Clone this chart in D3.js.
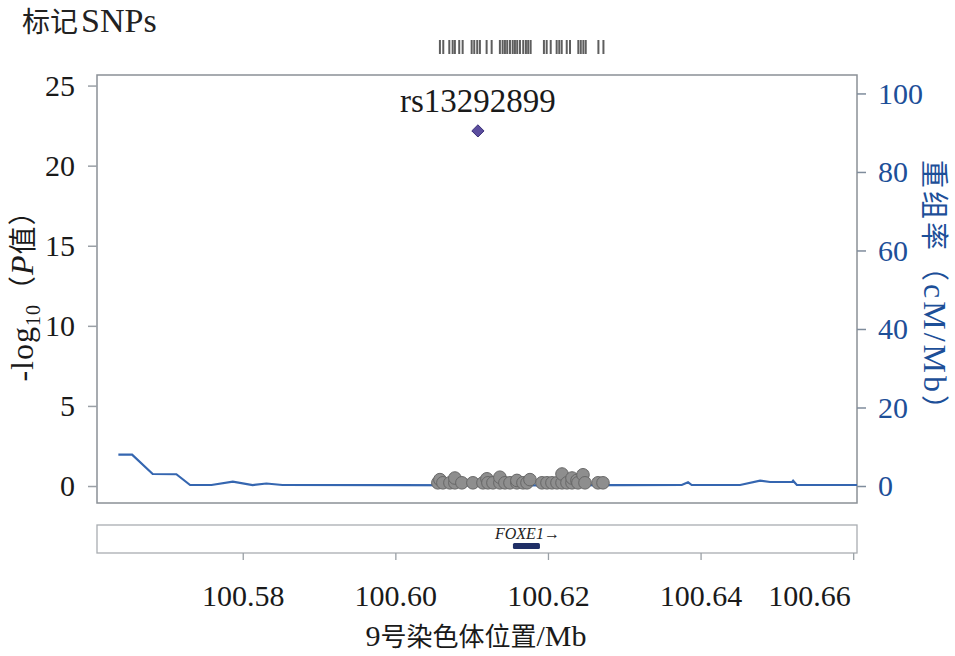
<!DOCTYPE html>
<html><head><meta charset="utf-8">
<script src="https://cdn.jsdelivr.net/npm/d3@7/dist/d3.min.js"></script>
<style>
body{margin:0;background:#fff;}
svg{display:block;}
text{font-family:"Liberation Serif","Noto Sans CJK SC",serif;}
</style></head><body>
<svg id="c" width="955" height="656"></svg>
<script>
// ---- data ----
const xTicks = [100.58, 100.60, 100.62, 100.64, 100.66];
const yTicksLeft = [0, 5, 10, 15, 20, 25];
const yTicksRight = [0, 20, 40, 60, 80, 100];
const snpPos = [100.60557,100.60584,100.60623,100.60715,100.60780,100.60780,100.60872,100.61016,100.61148,100.61200,100.61213,100.61279,100.61370,100.61370,100.61436,100.61502,100.61593,100.61593,100.61672,100.61725,100.61764,100.61921,100.61987,100.62052,100.62118,100.62184,100.62184,100.62249,100.62315,100.62315,100.62380,100.62393,100.62459,100.62485,100.62656,100.62721];
const snpLogP = [0.2,0.4,0.2,0.2,0.2,0.5,0.2,0.2,0.2,0.45,0.2,0.2,0.2,0.55,0.2,0.2,0.2,0.35,0.2,0.2,0.4,0.2,0.2,0.2,0.2,0.2,0.75,0.2,0.2,0.5,0.35,0.2,0.7,0.2,0.2,0.2];
const leadSnp = {name: "rs13292899", pos: 100.61082, logP: 22.17};
const recPos = [100.5637,100.5655,100.5682,100.5713,100.5731,100.5759,100.5787,100.5813,100.5831,100.5852,100.6000,100.6150,100.6300,100.63753,100.63836,100.63884,100.64518,100.6478,100.64911,100.6520,100.65213,100.65262,100.6605];
const recRate = [7.97,7.97,3.06,3.0,0.25,0.25,1.1,0.25,0.64,0.25,0.2,0.15,0.2,0.25,0.94,0.25,0.25,1.35,1.02,1.02,1.35,0.25,0.25];
const markerPos = [100.60584,100.60628,100.60707,100.60751,100.60780,100.60837,100.60882,100.61000,100.61034,100.61073,100.61108,100.61196,100.61262,100.61370,100.61406,100.61436,100.61466,100.61502,100.61538,100.61567,100.61597,100.61633,100.61676,100.61711,100.61741,100.61773,100.61947,100.61983,100.62036,100.62114,100.62148,100.62180,100.62246,100.62289,100.62398,100.62430,100.62464,100.62495,100.62661,100.62727];
const gene = {name: "FOXE1", start: 100.61541, end: 100.61895};

// ---- layout ----
const svg = d3.select("#c");
const L = 97, R = 857, T = 75, B = 503;
const x = d3.scaleLinear().domain([100.5609, 100.6605]).range([L, R]);
const yL = d3.scaleLinear().domain([-1.06, 25.66]).range([B, T]);
const yR = d3.scaleLinear().domain([-4.33, 104.7]).range([B, T]);
const frameCol = "#8b9096", blue = "#1d4f98", lineBlue = "#3566b0";

// title
const t = svg.append("text").attr("x", 22).attr("y", 32).attr("font-size", 34).attr("fill", "#222");
t.append("tspan").text("标记").attr("font-family", "Noto Sans CJK SC").attr("font-size", 28);
t.append("tspan").text("SNPs").attr("dx", 3);

// marker rug
svg.append("g").selectAll("line").data(markerPos).join("line")
  .attr("x1", d => x(d)).attr("x2", d => x(d)).attr("y1", 40).attr("y2", 54)
  .attr("stroke", "#5e5e5e").attr("stroke-width", 2);

// frame
svg.append("rect").attr("x", L).attr("y", T).attr("width", R - L).attr("height", B - T)
  .attr("fill", "none").attr("stroke", frameCol).attr("stroke-width", 1.5);

// left axis
const gl = svg.append("g").attr("transform", `translate(${L},0)`)
  .call(d3.axisLeft(yL).tickValues(yTicksLeft).tickSize(9).tickPadding(13).tickFormat(d3.format("d")));
gl.select(".domain").remove();
gl.selectAll(".tick line").attr("stroke", "#9aa0a6").attr("stroke-width", 1.5);
gl.selectAll(".tick text").attr("font-size", 30).attr("fill", "#1a1a1a").attr("font-family", "Liberation Serif");

// right axis
const gr = svg.append("g").attr("transform", `translate(${R},0)`)
  .call(d3.axisRight(yR).tickValues(yTicksRight).tickSize(9).tickPadding(12).tickFormat(d3.format("d")));
gr.select(".domain").remove();
gr.selectAll(".tick line").attr("stroke", "#7f8c9c").attr("stroke-width", 1.5);
gr.selectAll(".tick text").attr("font-size", 30).attr("fill", blue).attr("font-family", "Liberation Serif");

// recombination line
const clipId = "clipmain";
svg.append("clipPath").attr("id", clipId).append("rect").attr("x", L).attr("y", T).attr("width", R - L).attr("height", B - T);
svg.append("path").datum(recPos.map((p, i) => [p, recRate[i]]))
  .attr("clip-path", `url(#${clipId})`)
  .attr("d", d3.line().x(d => x(d[0])).y(d => yR(d[1])))
  .attr("fill", "none").attr("stroke", lineBlue).attr("stroke-width", 2.2);

// SNP points
svg.append("g").selectAll("circle").data(snpPos.map((p, i) => [p, snpLogP[i]])).join("circle")
  .attr("cx", d => x(d[0])).attr("cy", d => yL(d[1])).attr("r", 6.3)
  .attr("fill", "#8e8e8e").attr("stroke", "#676767").attr("stroke-width", 1);

// lead SNP
svg.append("path").attr("d", d3.symbol().type(d3.symbolDiamond2).size(95)())
  .attr("transform", `translate(${x(leadSnp.pos)},${yL(leadSnp.logP)})`)
  .attr("fill", "#5b4d9e").attr("stroke", "#3a2f78").attr("stroke-width", 1);
svg.append("text").attr("x", x(leadSnp.pos)).attr("y", yL(leadSnp.logP) - 19)
  .attr("text-anchor", "middle").attr("font-size", 33).attr("fill", "#1a1a1a").text(leadSnp.name);

// gene track
const GT = 525, GB = 553;
svg.append("rect").attr("x", L).attr("y", GT).attr("width", R - L).attr("height", GB - GT)
  .attr("fill", "none").attr("stroke", "#a9adb1").attr("stroke-width", 1.3);
svg.append("rect").attr("x", x(gene.start)).attr("y", 543).attr("width", x(gene.end) - x(gene.start)).attr("height", 6)
  .attr("rx", 1.5).attr("fill", "#1f2f66");
svg.append("text").attr("x", (x(gene.start) + x(gene.end)) / 2 + 1).attr("y", 539)
  .attr("text-anchor", "middle").attr("font-size", 16).attr("font-style", "italic").attr("fill", "#222")
  .text(gene.name + "→");

// x axis
const gx = svg.append("g").attr("transform", `translate(0,${GB})`)
  .call(d3.axisBottom(x).tickValues(xTicks).tickSize(7).tickPadding(25).tickFormat(d3.format(".2f")));
gx.select(".domain").remove();
gx.selectAll(".tick line").attr("stroke", "#9aa0a6").attr("stroke-width", 1.3);
gx.selectAll(".tick text").attr("font-size", 30).attr("fill", "#1a1a1a").attr("font-family", "Liberation Serif")
  .attr("text-anchor", (d, i) => i === xTicks.length - 1 ? "end" : "middle")
  .attr("dx", (d, i) => i === xTicks.length - 1 ? -3 : 0);

// x title
const xt = svg.append("text").attr("x", 476).attr("y", 646).attr("text-anchor", "middle").attr("font-size", 30).attr("fill", "#1a1a1a");
xt.append("tspan").text("9");
xt.append("tspan").text("号染色体位置").attr("font-family", "Noto Sans CJK SC").attr("font-size", 26);
xt.append("tspan").text("/Mb");

// left y title
const lt = svg.append("text").attr("transform", "translate(33,289) rotate(-90)").attr("text-anchor", "middle")
  .attr("font-size", 32).attr("fill", "#1a1a1a").attr("letter-spacing", 1);
lt.append("tspan").text("-log");
lt.append("tspan").text("10").attr("font-size", 20).attr("dy", 7);
lt.append("tspan").text("（").attr("dy", -7).attr("font-family", "Noto Sans CJK SC").attr("font-size", 28);
lt.append("tspan").text("P").attr("font-style", "italic");
lt.append("tspan").text("值）").attr("font-family", "Noto Sans CJK SC").attr("font-size", 28);

// right y title
const rt = svg.append("text").attr("transform", "translate(924,293) rotate(90)").attr("text-anchor", "middle")
  .attr("font-size", 32).attr("fill", blue).attr("letter-spacing", 3);
rt.append("tspan").text("重组率（").attr("font-family", "Noto Sans CJK SC").attr("font-size", 28);
rt.append("tspan").text("cM/Mb");
rt.append("tspan").text("）").attr("font-family", "Noto Sans CJK SC").attr("font-size", 28);
</script>
</body></html>
